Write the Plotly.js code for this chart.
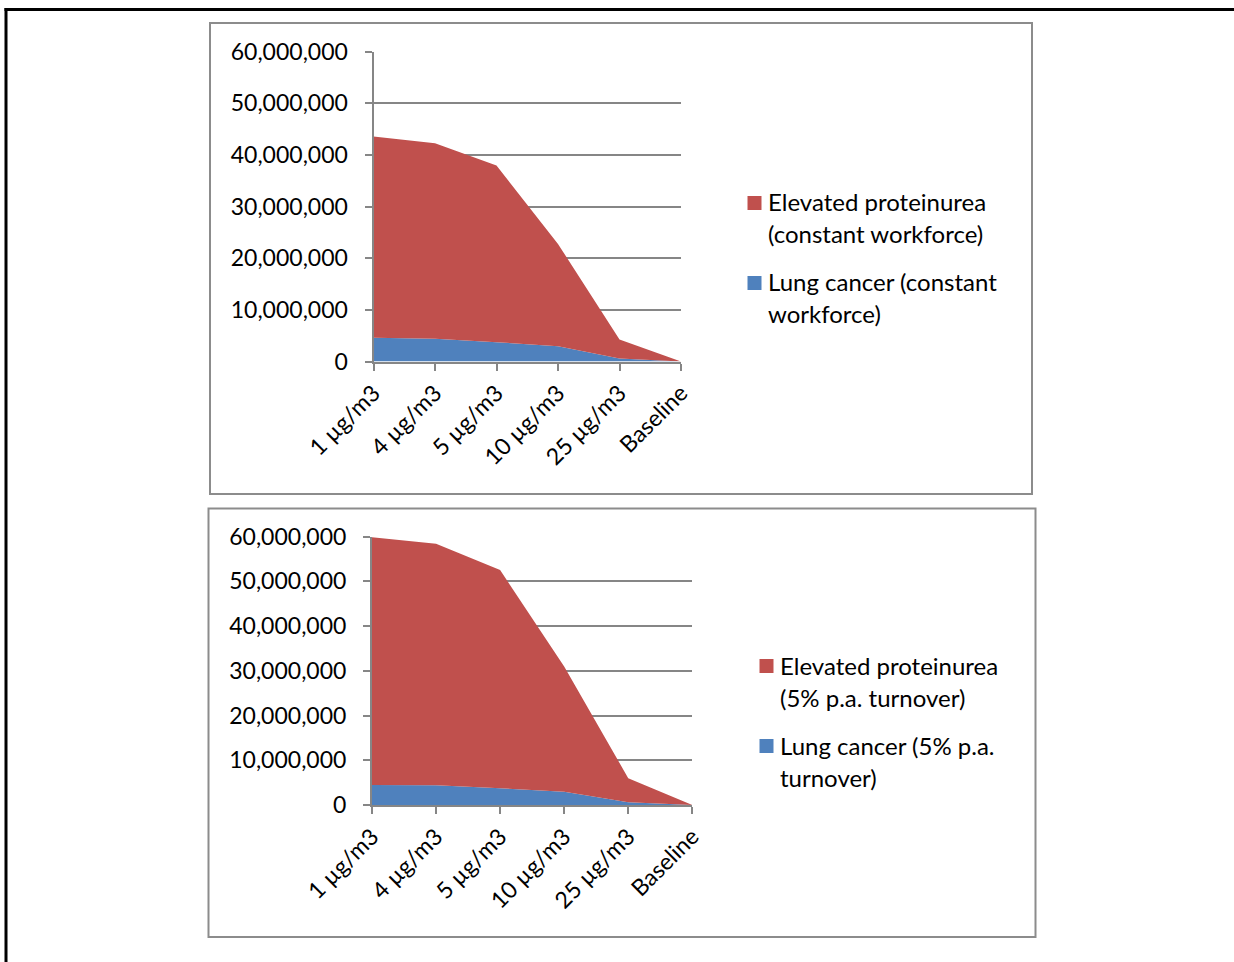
<!DOCTYPE html>
<html>
<head>
<meta charset="utf-8">
<script src="https://cdn.plot.ly/plotly-3.0.1.min.js"></script>
<style>
  html, body { margin: 0; padding: 0; background: #ffffff; }
  #chart { width: 1234px; height: 962px; }
</style>
</head>
<body>
<div id="chart"></div>
<script>
// Exposure scenarios along the horizontal axis
const categories = ['1 µg/m3', '4 µg/m3', '5 µg/m3', '10 µg/m3', '25 µg/m3', 'Baseline'];

// Upper panel: constant workforce
const lungConstant    = [4580000, 4390000, 3740000, 2970000, 580000, 0];
const proteinConstant = [39000000, 37900000, 34200000, 19800000, 3700000, 0];

// Lower panel: 5% p.a. turnover
const lungTurnover    = [4480000, 4400000, 3730000, 2990000, 600000, 0];
const proteinTurnover = [55400000, 54000000, 48800000, 28000000, 5400000, 0];

// Series names (line breaks mark where the legend wraps)
const namesConstant = ['Elevated proteinurea\n(constant workforce)', 'Lung cancer (constant\nworkforce)'];
const namesTurnover = ['Elevated proteinurea\n(5% p.a. turnover)', 'Lung cancer (5% p.a.\nturnover)'];

const RED = '#C0504D';
const BLUE = '#4F81BD';
const GRID = '#868686';
const FONT = 'Lato, "Open Sans", sans-serif';
const TICK_SIZE = 23;
const LEGEND_SIZE = 24;
const W = 1234, H = 962;

// pixel helpers for paper coordinates
const px = v => v / W;
const py = v => 1 - v / H;

function area(x, y, color, name, xa, ya, group) {
  return {
    type: 'scatter', mode: 'lines', x: x, y: y, name: name.replace('\n', ' '),
    stackgroup: group, fillcolor: color, line: { width: 0, color: color },
    xaxis: xa, yaxis: ya, hoverinfo: 'x+y+name', showlegend: false
  };
}

const traces = [
  area(categories, lungConstant, BLUE, namesConstant[1], 'x', 'y', 'top'),
  area(categories, proteinConstant, RED, namesConstant[0], 'x', 'y', 'top'),
  area(categories, lungTurnover, BLUE, namesTurnover[1], 'x2', 'y2', 'bottom'),
  area(categories, proteinTurnover, RED, namesTurnover[0], 'x2', 'y2', 'bottom')
];

function xAxis(domain, anchor) {
  return {
    domain: domain, anchor: anchor, type: 'category', range: [0, 5],
    showline: true, linecolor: GRID, linewidth: 2,
    ticks: 'outside', ticklen: 7, tickwidth: 2, tickcolor: GRID,
    tickangle: -45, showgrid: false, zeroline: false,
    tickfont: { family: FONT, size: TICK_SIZE, color: '#000' }
  };
}
function yAxis(domain, anchor) {
  return {
    domain: domain, anchor: anchor, range: [0, 60000000], dtick: 10000000,
    tickformat: ',d', showline: true, linecolor: GRID, linewidth: 2,
    ticks: 'outside', ticklen: 7, tickwidth: 2, tickcolor: GRID,
    showgrid: true, gridcolor: GRID, gridwidth: 2, zeroline: false,
    ticklabelstandoff: 12,
    tickfont: { family: FONT, size: TICK_SIZE, color: '#000' }
  };
}

const shapes = [
  // page frame
  { type: 'line', xref: 'paper', yref: 'paper', x0: px(4.5), x1: px(1234), y0: py(9.5), y1: py(9.5), line: { color: '#000', width: 3 } },
  { type: 'line', xref: 'paper', yref: 'paper', x0: px(6), x1: px(6), y0: py(8), y1: py(962), line: { color: '#000', width: 3 } },
  // chart boxes
  { type: 'rect', xref: 'paper', yref: 'paper', x0: px(210), x1: px(1032), y0: py(23), y1: py(494), line: { color: '#8c8c8c', width: 2 } },
  { type: 'rect', xref: 'paper', yref: 'paper', x0: px(208.5), x1: px(1035.5), y0: py(508.5), y1: py(937), line: { color: '#8c8c8c', width: 2 } }
];
const annotations = [];

// legend entries: colour square plus wrapped text lines
function legendEntry(name, color, sqX, sqTop, textX, lineYs) {
  shapes.push({ type: 'rect', xref: 'paper', yref: 'paper', x0: px(sqX), x1: px(sqX + 14), y0: py(sqTop), y1: py(sqTop + 14), fillcolor: color, line: { width: 0 } });
  name.split('\n').forEach((t, i) => {
    annotations.push({ xref: 'paper', yref: 'paper', x: px(textX), y: py(lineYs[i]), xanchor: 'left', yanchor: 'middle', showarrow: false, text: t, font: { family: FONT, size: LEGEND_SIZE, color: '#000' } });
  });
}
legendEntry(namesConstant[0], RED, 747.5, 196, 766, [202, 234]);
legendEntry(namesConstant[1], BLUE, 747.5, 276, 766, [282, 314]);
legendEntry(namesTurnover[0], RED, 759.5, 659, 778, [665, 697]);
legendEntry(namesTurnover[1], BLUE, 759.5, 739, 778, [745, 777]);

const layout = {
  width: W, height: H, margin: { l: 0, r: 0, t: 0, b: 0 },
  paper_bgcolor: '#fff', plot_bgcolor: 'rgba(0,0,0,0)', showlegend: false,
  xaxis: xAxis([px(373.5), px(681)], 'y'),
  yaxis: yAxis([py(361.5), py(51.7)], 'x'),
  xaxis2: xAxis([px(372), px(692.3)], 'y2'),
  yaxis2: yAxis([py(805), py(536.7)], 'x2'),
  shapes: shapes, annotations: annotations
};

Plotly.newPlot('chart', traces, layout, { staticPlot: true });
</script>
</body>
</html>
